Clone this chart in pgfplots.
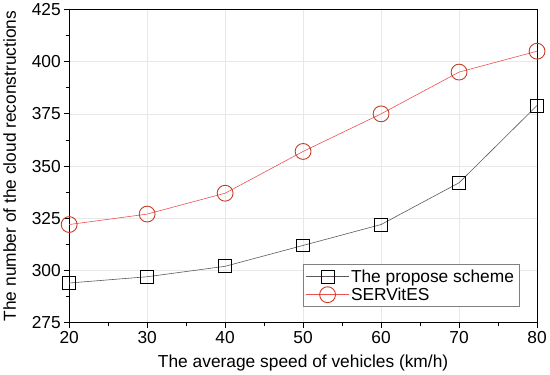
\documentclass[border=0pt]{standalone}
\usepackage{pgfplots}
\pgfplotsset{compat=1.18}
\usepackage{fontspec}
\setmainfont{Liberation Sans}
\definecolor{myred}{RGB}{232,50,50}
\definecolor{mybrown}{RGB}{160,70,35}
\definecolor{markred}{RGB}{196,60,40}
\begin{document}
\begin{tikzpicture}
\begin{axis}[
  scale only axis,
  width=472pt, height=316pt,
  xmin=20, xmax=80, ymin=275, ymax=425,
  xtick={20,30,...,80},
  ytick={275,300,...,425},
  minor x tick num=1, minor y tick num=1,
  tick align=outside,
  tick pos=left,
  major tick length=5pt, minor tick length=3pt,
  every tick/.style={black, line width=0.9pt},
  axis line style={line width=1.1pt},
  grid=major,
  major grid style={gray!18, line width=0.5pt},
  font=\fontsize{17.5}{20}\selectfont,
  /pgf/number format/assume math mode=true,
  ticklabel style={font=\fontsize{17.5}{20}\selectfont},
  xlabel={The average speed of vehicles (km/h)},
  ylabel={The number of the cloud reconstructions},
  xlabel style={yshift=-5pt},
  ylabel style={yshift=9pt},
  legend style={at={(0.962,0.05)}, anchor=south east, draw=gray, line width=0.7pt,
    font=\fontsize{17.5}{20}\selectfont, row sep=0pt, inner sep=3pt},
  legend cell align=left,
  legend image code/.code={\draw[mark repeat=2,mark phase=2,#1] plot coordinates {(0cm,0cm) (0.75cm,0cm) (1.5cm,0cm)};},
]
\addplot[black!65, line width=0.6pt, mark=square, mark size=6.5pt,
  mark options={black, line width=0.9pt, fill=none}]
  coordinates {(20,294) (30,297) (40,302) (50,312) (60,322) (70,342) (80,379)};
\addlegendentry{The propose scheme}
\addplot[myred!85, line width=0.6pt, mark=o, mark size=8pt,
  mark options={markred, line width=0.9pt}]
  coordinates {(20,322) (30,327) (40,337) (50,357) (60,375) (70,395) (80,405)};
\addlegendentry{SERVitES}
\end{axis}
\end{tikzpicture}
\end{document}
